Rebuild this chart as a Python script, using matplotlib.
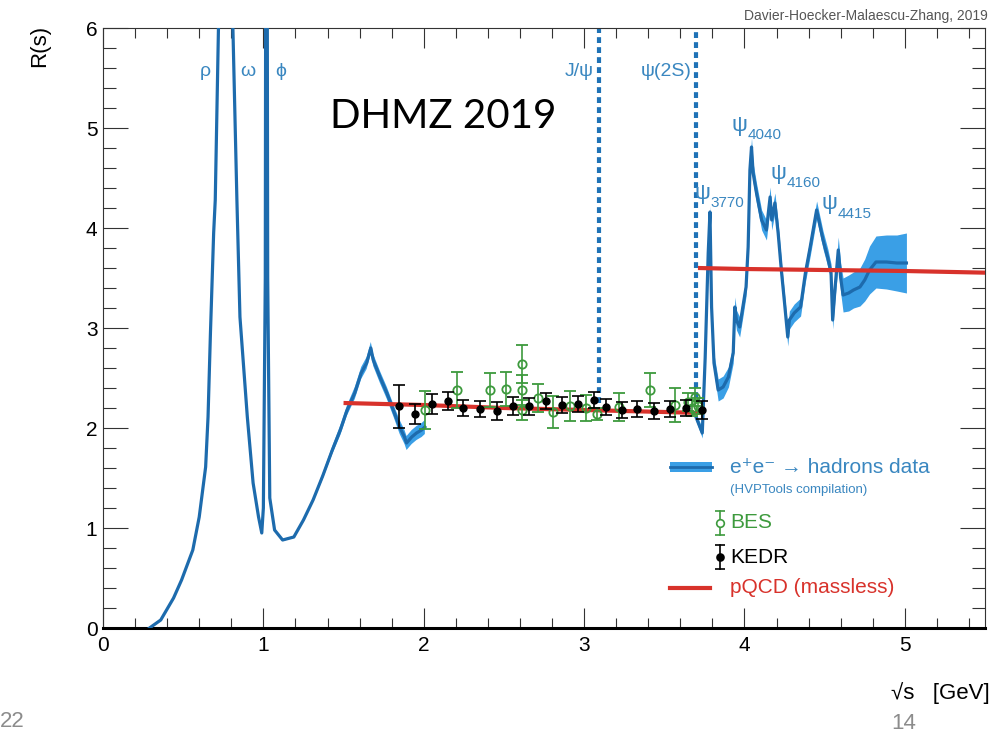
import numpy as np
import matplotlib.pyplot as plt
from matplotlib.ticker import MultipleLocator

plt.rcParams['font.family'] = ['Liberation Sans', 'DejaVu Sans']

# e+e- -> hadrons compilation below 2 GeV
low_sqrts = [0.29, 0.36, 0.44, 0.49, 0.56, 0.60, 0.64, 0.655, 0.67, 0.69, 0.70, 0.72,
             0.75, 0.775, 0.782, 0.79, 0.81, 0.835, 0.854, 0.90, 0.936, 0.97, 0.99,
             1.00, 1.012, 1.019, 1.027, 1.04, 1.07, 1.12, 1.19, 1.25, 1.31, 1.37,
             1.43, 1.48, 1.52, 1.57, 1.61, 1.644, 1.67, 1.685, 1.727, 1.77, 1.81,
             1.85, 1.88, 1.893, 1.925, 1.955, 1.987, 2.007]
low_r = [0.00, 0.08, 0.30, 0.48, 0.78, 1.11, 1.61, 2.11, 2.95, 3.95, 4.28, 6.00,
         8.0, 9.5, 12.0, 8.5, 6.0, 4.28, 3.11, 2.11, 1.45, 1.11, 0.95,
         1.20, 3.5, 12.0, 3.5, 1.30, 0.98, 0.88, 0.91, 1.08, 1.28, 1.52,
         1.78, 1.98, 2.17, 2.35, 2.55, 2.65, 2.80, 2.68, 2.51, 2.35, 2.18,
         2.01, 1.91, 1.85, 1.91, 1.95, 1.98, 2.01]
low_err = [0.01, 0.01, 0.01, 0.01, 0.01, 0.01, 0.01, 0.01, 0.01, 0.01, 0.01, 0.01,
           0.01, 0.01, 0.01, 0.01, 0.01, 0.01, 0.01, 0.01, 0.01, 0.01, 0.01,
           0.01, 0.01, 0.01, 0.01, 0.01, 0.01, 0.01, 0.01, 0.01, 0.02, 0.03,
           0.04, 0.05, 0.05, 0.06, 0.06, 0.06, 0.06, 0.06, 0.06, 0.06, 0.06,
           0.07, 0.07, 0.07, 0.07, 0.07, 0.07, 0.07]

# charm threshold region
charm_sqrts = [3.70, 3.737, 3.755, 3.774, 3.785, 3.795, 3.81, 3.836, 3.867, 3.90,
               3.93, 3.94, 3.95, 3.97, 3.99, 4.01, 4.023, 4.034, 4.044, 4.054,
               4.075, 4.107, 4.137, 4.16, 4.17, 4.19, 4.21, 4.23, 4.25, 4.27,
               4.28, 4.31, 4.35, 4.38, 4.41, 4.45, 4.49, 4.52, 4.54, 4.55,
               4.565, 4.585, 4.60, 4.615, 4.65, 4.68, 4.72, 4.75, 4.78, 4.82,
               4.885, 4.95, 5.01]
charm_r = [2.10, 1.95, 2.70, 3.75, 4.16, 3.21, 2.65, 2.38, 2.41, 2.51,
           2.75, 3.21, 3.08, 3.01, 3.21, 3.41, 3.81, 4.58, 4.81, 4.55,
           4.35, 4.08, 3.98, 4.31, 4.08, 4.25, 3.95, 3.58, 3.25, 2.91,
           3.08, 3.15, 3.21, 3.55, 3.81, 4.18, 3.88, 3.70, 3.55, 3.08,
           3.40, 3.78, 3.50, 3.33, 3.35, 3.38, 3.41, 3.48, 3.58, 3.66,
           3.66, 3.65, 3.65]
charm_err = [0.04, 0.05, 0.06, 0.07, 0.06, 0.08, 0.09, 0.11, 0.11, 0.10,
             0.10, 0.10, 0.10, 0.10, 0.10, 0.09, 0.09, 0.09, 0.09, 0.10,
             0.10, 0.10, 0.10, 0.10, 0.10, 0.10, 0.10, 0.09, 0.09, 0.09,
             0.09, 0.09, 0.09, 0.09, 0.09, 0.09, 0.09, 0.09, 0.09, 0.09,
             0.11, 0.13, 0.15, 0.17, 0.18, 0.18, 0.19, 0.21, 0.24, 0.26,
             0.27, 0.28, 0.30]

# pQCD (massless)
pqcd_low_sqrts = [1.50, 2.00, 2.50, 3.00, 3.50, 3.73]
pqcd_low_r = [2.25, 2.23, 2.20, 2.18, 2.16, 2.15]
pqcd_high_sqrts = [3.71, 4.00, 4.50, 5.00, 5.60]
pqcd_high_r = [3.60, 3.59, 3.58, 3.57, 3.55]

# KEDR
kedr_sqrts = [1.847, 1.945, 2.05, 2.149, 2.246, 2.35, 2.454, 2.558, 2.656, 2.76,
              2.864, 2.963, 3.061, 3.134, 3.238, 3.333, 3.437, 3.535, 3.635, 3.737]
kedr_r = [2.22, 2.14, 2.24, 2.27, 2.20, 2.19, 2.17, 2.22, 2.22, 2.27,
          2.23, 2.24, 2.28, 2.21, 2.18, 2.19, 2.17, 2.19, 2.20, 2.18]
kedr_err = [0.215, 0.10, 0.10, 0.088, 0.083, 0.083, 0.09, 0.088, 0.085, 0.083,
            0.08, 0.08, 0.083, 0.083, 0.083, 0.078, 0.082, 0.078, 0.078, 0.087]

# BES
bes_sqrts = [2.007, 2.209, 2.413, 2.512, 2.61, 2.61, 2.61, 2.715, 2.807, 2.91,
             3.015, 3.08, 3.217, 3.41, 3.566, 3.65, 3.67, 3.69, 3.71]
bes_r = [2.18, 2.38, 2.38, 2.39, 2.64, 2.38, 2.18, 2.30, 2.16, 2.22,
         2.20, 2.14, 2.21, 2.38, 2.23, 2.26, 2.20, 2.31, 2.22]
bes_err = [0.19, 0.18, 0.17, 0.17, 0.19, 0.15, 0.10, 0.14, 0.16, 0.15,
           0.13, 0.06, 0.14, 0.17, 0.17, 0.09, 0.08, 0.09, 0.08]

# narrow resonances marked with dotted lines
narrow_names = ['J/ψ', 'ψ(2S)']
narrow_sqrts = [3.09, 3.70]
narrow_r_low = [2.25, 2.30]

wide_names = ['ρ', 'ω', 'ϕ']
wide_sqrts = [0.636, 0.904, 1.11]

charm_states = ['3770', '4040', '4160', '4415']
charm_label_sqrts = [3.74, 3.97, 4.21, 4.53]
charm_label_r = [4.35, 5.03, 4.55, 4.24]

LINE = '#1d6bad'
BAND = '#3a9fe6'
LBL = '#3a87c0'
GREEN = '#3d9a3d'
RED = '#d8322b'

fig = plt.figure(figsize=(9.92, 7.35), dpi=100)
ax = fig.add_axes([103 / 992, 1 - 628 / 735, 882 / 992, 600 / 735])

for xs, rs, es in [(low_sqrts, low_r, low_err), (charm_sqrts, charm_r, charm_err)]:
    xs, rs, es = np.array(xs), np.array(rs), np.array(es)
    ax.fill_between(xs, rs - es, rs + es, color=BAND, lw=0, zorder=2)
    ax.plot(xs, rs, color=LINE, lw=2.3, zorder=3)

for x0, r0 in zip(narrow_sqrts, narrow_r_low):
    ax.plot([x0, x0], [r0, 6.0], color='#1f72b6', lw=3, dashes=(1.4, 1.0), zorder=2)

ax.plot(pqcd_low_sqrts, pqcd_low_r, color=RED, lw=3, zorder=4, solid_capstyle='butt')
ax.plot(pqcd_high_sqrts, pqcd_high_r, color=RED, lw=3, zorder=4, solid_capstyle='butt')

ax.errorbar(bes_sqrts, bes_r, yerr=bes_err, fmt='o', ms=6, mfc='none', mec=GREEN,
            mew=1.3, ecolor=GREEN, elinewidth=1.2, capsize=4, capthick=1.2, zorder=5)
ax.errorbar(kedr_sqrts, kedr_r, yerr=kedr_err, fmt='o', ms=5, color='black',
            ecolor='black', elinewidth=1.2, capsize=4, capthick=1.2, zorder=6)

ax.set_xlim(0, 5.5)
ax.set_ylim(0, 6)
ax.xaxis.set_major_locator(MultipleLocator(1))
ax.xaxis.set_minor_locator(MultipleLocator(0.2))
ax.yaxis.set_major_locator(MultipleLocator(1))
ax.yaxis.set_minor_locator(MultipleLocator(0.2))
ax.tick_params(axis='both', which='both', direction='in', top=True, right=True,
               color='#333333', width=0.8, labelsize=15)
ax.tick_params(axis='x', which='major', length=14.4, pad=6)
ax.tick_params(axis='x', which='minor', length=7.2)
ax.tick_params(axis='y', which='major', length=18, pad=4)
ax.tick_params(axis='y', which='minor', length=9.4)
for side in ['left', 'right', 'top']:
    ax.spines[side].set_linewidth(0.8)
    ax.spines[side].set_color('#333333')
ax.spines['bottom'].set_linewidth(2.2)

# resonance labels
for name, x0 in zip(wide_names, wide_sqrts):
    ax.text(x0, 5.56, name, color=LBL, fontsize=14, ha='center', va='center')
for name, x0 in zip(narrow_names, narrow_sqrts):
    ax.text(x0 - 0.03, 5.56, name, color=LBL, fontsize=14, ha='right', va='center')
for sub, x0, r0 in zip(charm_states, charm_label_sqrts, charm_label_r):
    ax.text(x0, r0, 'ψ', color=LBL, fontsize=16, ha='center', va='center')
    ax.text(x0 + 0.05, r0 - 0.1, sub, color=LBL, fontsize=11, ha='left', va='center')

ax.text(1.415, 5.0, 'DHMZ 2019', fontsize=29, family=['Lato', 'DejaVu Sans'],
        color='black', ha='left', va='baseline')

# legend drawn by hand
tr = ax.transAxes
ax.fill_between([0.643, 0.690], [0.260, 0.260], [0.277, 0.277], color=BAND,
                transform=tr, lw=0, zorder=7)
ax.plot([0.643, 0.690], [0.2685, 0.2685], color=LINE, lw=2.0, transform=tr, zorder=8)
ax.text(0.711, 0.268, 'e⁺e⁻ → hadrons data', transform=tr, color=LBL, fontsize=15,
        ha='left', va='center')
ax.text(0.711, 0.230, '(HVPTools compilation)', transform=tr, color=LBL, fontsize=9.5,
        ha='left', va='center')

for fy, col, filled, name in [(0.175, GREEN, False, 'BES'), (0.118, 'black', True, 'KEDR')]:
    ax.plot([0.6995, 0.6995], [fy - 0.02, fy + 0.02], color=col, lw=1.2, transform=tr)
    ax.plot([0.6995, 0.6995], [fy - 0.02, fy + 0.02], ls='none', marker='_', ms=7,
            mew=1.2, color=col, transform=tr)
    ax.plot([0.6995], [fy], ls='none', marker='o', ms=5 if filled else 5.5,
            mfc=col if filled else 'white', mec=col, mew=1.2, transform=tr)
    ax.text(0.711, fy, name, transform=tr, color=col, fontsize=15, ha='left', va='center')

ax.plot([0.643, 0.688], [0.0667, 0.0667], color=RED, lw=3, transform=tr)
ax.text(0.711, 0.0667, 'pQCD (massless)', transform=tr, color=RED, fontsize=15,
        ha='left', va='center')

fig.text(0.040, 0.966, 'R(s)', rotation=90, fontsize=16, ha='center', va='top')
fig.text(0.998, 0.057, '√s   [GeV]', fontsize=16, ha='right', va='center')
fig.text(0.996, 0.973, 'Davier-Hoecker-Malaescu-Zhang, 2019', fontsize=10,
         color='#555555', ha='right', va='baseline')
fig.text(0.0, 0.018, '22', fontsize=16, color='#8c8c8c', ha='left', va='center')
fig.text(0.911, 0.016, '14', fontsize=16, color='#8c8c8c', ha='center', va='center')

fig.savefig('out.png', dpi=100)
